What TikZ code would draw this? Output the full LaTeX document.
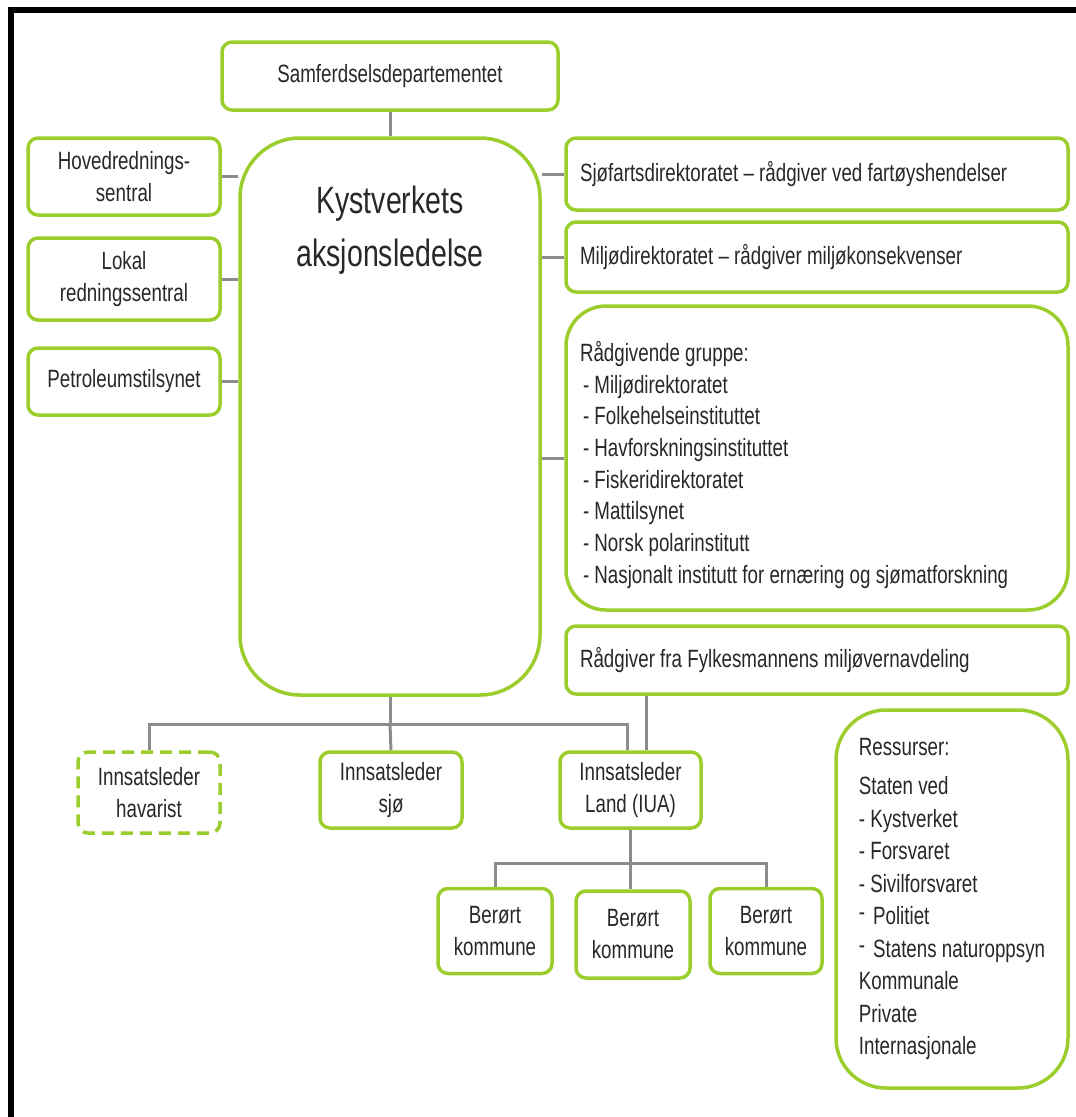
\documentclass[tikz,border=0pt]{standalone}
\usepackage{fontspec}
\setmainfont{Liberation Sans}[FakeStretch=0.75]
\usetikzlibrary{backgrounds}
\definecolor{kvgreen}{RGB}{155,205,45}
\definecolor{kvgray}{RGB}{140,140,140}
\definecolor{kvtext}{RGB}{40,40,40}

\begin{document}
\begin{tikzpicture}[x=1pt, y=-1pt,
        box/.style={draw=kvgreen, line width=3.5pt, fill=white, rounded corners=10pt, text=kvtext,
            font=\fontsize{25}{32}\selectfont, align=center, inner sep=0pt},
        widebox/.style={box, inner xsep=14pt, text width=474pt, align=flush left},
        link/.style={draw=kvgray, line width=3pt}]
            \useasboundingbox (0,0) rectangle (1076,1117);
            \draw[line width=6pt] (10.5,1117) -- (10.5,10) -- (1076,10);

            \node[box, minimum width=336pt, minimum height=68pt] (samferdsel) at (390,76) {Samferdselsdepartementet};
            \node[box, rounded corners=60pt, minimum width=300pt, minimum height=557pt] (kyst) at (390,416.5) {};
            \node[text=kvtext, font=\fontsize{38}{53}\selectfont, align=center] (kysttekst) at (390,230) {Kystverkets\\aksjonsledelse};

            \node[box, minimum width=192pt, minimum height=77pt] (hovedredning) at (124,176.5) {Hovedrednings-\\sentral};
            \node[box, minimum width=192pt, minimum height=82pt] (lokalredning) at (124,279) {Lokal\\redningssentral};
            \node[box, minimum width=192pt, minimum height=67pt] (petroleum) at (124,381.5) {Petroleumstilsynet};

            \node[widebox, minimum height=72pt] (sjofart) at (817,174) {Sjøfartsdirektoratet – rådgiver ved fartøyshendelser};
            \node[widebox, minimum height=70pt] (miljo) at (817,257) {Miljødirektoratet – rådgiver miljøkonsekvenser};
            \node[widebox, rounded corners=40pt, minimum height=304pt, font=\fontsize{25}{31.7}\selectfont] (raadgivende) at (817,458)
                {\rule{0pt}{34pt}Rådgivende gruppe:\\\hspace{3pt}- Miljødirektoratet\\\hspace{3pt}- Folkehelseinstituttet\\\hspace{3pt}- Havforskningsinstituttet\\\hspace{3pt}- Fiskeridirektoratet\\\hspace{3pt}- Mattilsynet\\\hspace{3pt}- Norsk polarinstitutt\\\hspace{3pt}- Nasjonalt institutt for ernæring og sjømatforskning};
            \node[widebox, minimum height=68pt] (fylkesmann) at (817,660) {Rådgiver fra Fylkesmannens miljøvernavdeling};

            \node[box, dash pattern=on 12pt off 7pt, minimum width=142pt, minimum height=81pt] (havarist) at (149,792.5) {Innsatsleder\\havarist};
            \node[box, minimum width=142pt, minimum height=76pt] (sjo) at (391,790) {Innsatsleder\\sjø};
            \node[box, minimum width=141pt, minimum height=76pt] (iua) at (630.5,790) {Innsatsleder\\Land (IUA)};

            \node[box, minimum width=114pt, minimum height=85pt] (berort1) at (495,931) {Berørt\\kommune};
            \node[box, minimum width=114pt, minimum height=87pt] (berort2) at (633,934.5) {Berørt\\kommune};
            \node[box, minimum width=112pt, minimum height=85pt] (berort3) at (766,931) {Berørt\\kommune};

            \node[box, rounded corners=50pt, minimum width=232pt, minimum height=378pt, align=left, font=\fontsize{25}{32.5}\selectfont] (ressurser) at (952,899)
                {Ressurser:\\[7pt]Staten ved\\- Kystverket\\- Forsvaret\\- Sivilforsvaret\\\raisebox{4pt}{-}\hspace{8pt}Politiet\\\raisebox{4pt}{-}\hspace{8pt}Statens naturoppsyn\\Kommunale\\Private\\Internasjonale};

            \begin{scope}[on background layer]
                \draw[link] (samferdsel) -- (kyst);
                \draw[link] (hovedredning.east) -- (hovedredning.east -| kyst.west);
                \draw[link] (lokalredning.east) -- (lokalredning.east -| kyst.west);
                \draw[link] (petroleum.east) -- (petroleum.east -| kyst.west);
                \draw[link] (sjofart.west) -- (sjofart.west -| kyst.east);
                \draw[link] (miljo.west) -- (miljo.west -| kyst.east);
                \draw[link] (raadgivende.west) -- (raadgivende.west -| kyst.east);

                \draw[link] (kyst.south) -- ++(0,28) coordinate (bus);
                \draw[link] (havarist.north) |- (bus) -| ([xshift=-3pt]iua.north);
                \draw[link] (bus) -- (sjo.north);
                \draw[link] ([xshift=16pt]iua.north) -- ([xshift=16pt]iua.north |- fylkesmann.south);

                \draw[link] (iua.south) -- ++(0,34) coordinate (kommunebus);
                \draw[link] (berort1.north) |- (kommunebus) -| (berort3.north);
                \draw[link] (kommunebus) -- (kommunebus |- berort2.north);
            \end{scope}
        \end{tikzpicture}
\end{document}
